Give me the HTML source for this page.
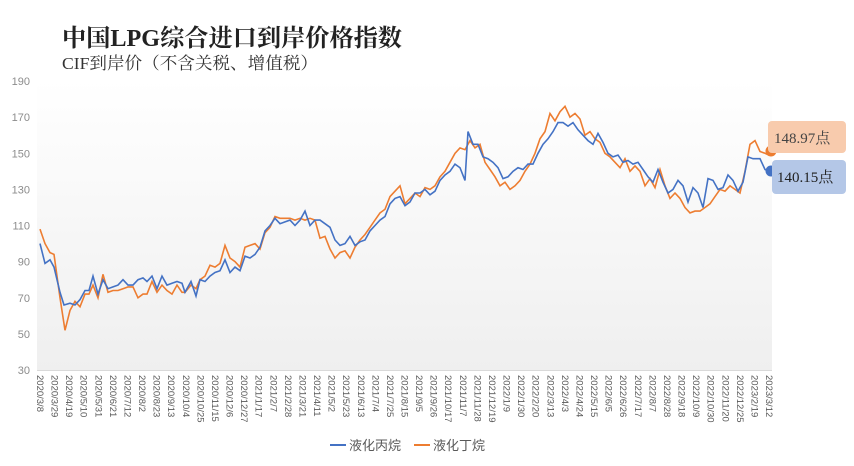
<!DOCTYPE html>
<html><head><meta charset="utf-8">
<style>
body{margin:0;background:#fff;}
svg{display:block;}
</style></head>
<body>
<svg id="c" width="854" height="466" xmlns="http://www.w3.org/2000/svg" font-family="'Liberation Sans','Noto Sans CJK SC',sans-serif">
<defs>
<linearGradient id="bg" x1="0" y1="0" x2="0" y2="1">
<stop offset="0" stop-color="#ffffff"/><stop offset="1" stop-color="#efefef"/>
</linearGradient>
</defs>
<rect x="37" y="80" width="735" height="290" fill="url(#bg)"/>
<text x="62" y="46" font-family="'Liberation Serif','Noto Serif CJK SC',serif" font-size="24" font-weight="bold" fill="#222" textLength="340" lengthAdjust="spacingAndGlyphs">中国LPG综合进口到岸价格指数</text>
<text x="62" y="69" font-family="'Liberation Serif','Noto Serif CJK SC',serif" font-size="17" fill="#333" textLength="256" lengthAdjust="spacingAndGlyphs">CIF到岸价（不含关税、增值税）</text>
<g id="yl" font-size="11" fill="#8c8c8c" text-anchor="end"></g>
<g id="xl" font-size="9.5" fill="#595959"></g>
<line x1="37" y1="370.5" x2="772" y2="370.5" stroke="#d9d9d9"/>
<polyline id="ob" fill="none" stroke="#ed7d31" stroke-width="1.6"/>
<polyline id="bl" fill="none" stroke="#4472c4" stroke-width="1.6"/>
<circle cx="771" cy="151" r="5.5" fill="#ed7d31"/>
<circle cx="771" cy="171" r="5.5" fill="#4472c4"/>
<rect x="768" y="121" width="78" height="32" rx="4" fill="#f8cbad"/>
<text x="774" y="143" font-family="'Liberation Serif','Noto Serif CJK SC',serif" font-size="15" fill="#444">148.97点</text>
<rect x="772" y="160" width="74" height="34" rx="4" fill="#b4c7e7"/>
<text x="777" y="182" font-family="'Liberation Serif','Noto Serif CJK SC',serif" font-size="15" fill="#222">140.15点</text>
<line x1="330" y1="445" x2="346" y2="445" stroke="#4472c4" stroke-width="2"/>
<text x="349" y="450" font-size="13" fill="#595959">液化丙烷</text>
<line x1="414" y1="445" x2="430" y2="445" stroke="#ed7d31" stroke-width="2"/>
<text x="433" y="450" font-size="13" fill="#595959">液化丁烷</text>
</svg>
<script>
var NS="http://www.w3.org/2000/svg";
function Y(v){return 370-(v-30)*1.806;}
var yl=document.getElementById('yl');
for(var v=30;v<=190;v+=20){var t=document.createElementNS(NS,'text');t.setAttribute('x',30);t.setAttribute('y',Y(v)+4);t.textContent=v;yl.appendChild(t);}
var labs="2020/3/8 2020/3/29 2020/4/19 2020/5/10 2020/5/31 2020/6/21 2020/7/12 2020/8/2 2020/8/23 2020/9/13 2020/10/4 2020/10/25 2020/11/15 2020/12/6 2020/12/27 2021/1/17 2021/2/7 2021/2/28 2021/3/21 2021/4/11 2021/5/2 2021/5/23 2021/6/13 2021/7/4 2021/7/25 2021/8/15 2021/9/5 2021/9/26 2021/10/17 2021/11/7 2021/11/28 2021/12/19 2022/1/9 2022/1/30 2022/2/20 2022/3/13 2022/4/3 2022/4/24 2022/5/15 2022/6/5 2022/6/26 2022/7/17 2022/8/7 2022/8/28 2022/9/18 2022/10/9 2022/10/30 2022/11/20 2022/12/25 2023/2/19 2023/3/12".split(" ");
var xl=document.getElementById('xl');var n=labs.length;
for(var i=0;i<n;i++){var x=40+i*(769-40)/(n-1);var t=document.createElementNS(NS,'text');t.setAttribute('transform','translate('+(x-3)+',375) rotate(90)');t.textContent=labs[i];xl.appendChild(t);}
var B=[40,100,45,89,50,91,54,87,60,73,64,66,70,67,75,66,80,69,85,74,89,74,93,82,98,72,103,80,108,75,113,76,118,77,123,80,128,77,133,77,138,80,143,81,147,79,152,82,157,75,162,82,167,77,172,78,177,79,182,78,185,73,191,79,196,71,200,80,205,79,210,82,215,84,220,85,225,91,230,84,235,87,240,85,245,93,250,92,255,94,260,98,265,107,270,110,275,114,280,111,285,112,290,113,295,110,300,113,305,118,310,110,315,113,320,113,325,111,330,109,335,102,340,99,345,100,350,104,355,99,360,101,365,102,370,107,375,110,380,113,385,115,390,122,395,125,400,126,405,121,410,123,415,128,420,128,425,130,430,127,435,129,440,135,445,138,450,140,455,144,460,142,465,135,468,162,473,155,478,155,483,148,488,147,493,145,498,142,503,136,508,137,513,140,518,142,523,141,528,144,533,144,538,150,543,155,548,158,553,162,558,167,563,167,568,165,573,167,578,163,583,160,588,157,593,155,598,161,603,156,608,150,613,148,618,149,623,145,628,146,633,144,638,145,643,141,648,137,653,134,658,141,663,134,668,128,673,130,678,135,683,132,688,123,693,131,698,128,703,120,708,136,713,135,718,130,723,131,728,138,733,135,738,129,743,134,748,148,753,147,760,147,765,141,769,140];
var O=[40,108,45,100,50,95,54,94,60,70,65,52,70,63,75,68,80,65,85,72,89,72,93,77,98,70,103,83,108,73,113,74,118,74,123,75,128,76,133,76,138,70,143,72,147,72,152,79,157,73,162,77,167,74,172,72,177,77,182,73,185,73,191,77,196,75,200,80,205,82,210,88,215,87,220,89,225,99,230,92,235,90,240,87,245,98,250,99,255,100,260,97,265,106,270,109,275,115,280,114,285,114,290,114,295,113,300,114,305,113,310,114,315,113,320,103,325,104,330,97,335,92,340,95,345,96,350,92,355,98,360,102,365,105,370,109,375,113,380,117,385,119,390,126,395,129,400,132,405,122,410,125,415,128,420,126,425,131,430,130,435,132,440,137,445,140,450,145,455,150,460,153,465,152,470,157,475,153,480,155,485,145,490,141,495,137,500,132,505,134,510,130,515,132,520,135,525,140,530,144,535,150,540,158,545,162,550,172,555,168,560,173,565,176,570,170,575,172,580,169,585,160,590,162,595,158,600,156,605,150,610,148,615,145,620,142,625,147,630,140,635,143,640,140,645,132,650,136,655,131,660,141,665,132,670,125,675,128,680,125,685,120,690,117,695,118,700,118,705,120,710,122,715,126,720,130,725,129,730,132,735,130,740,128,745,140,750,155,755,157,760,151,765,150,769,149];
function pts(a){var s=[];for(var i=0;i<a.length;i+=2)s.push(a[i]+','+Y(a[i+1]).toFixed(1));return s.join(' ');}
document.getElementById('bl').setAttribute('points',pts(B));
document.getElementById('ob').setAttribute('points',pts(O));
</script>
</body></html>
